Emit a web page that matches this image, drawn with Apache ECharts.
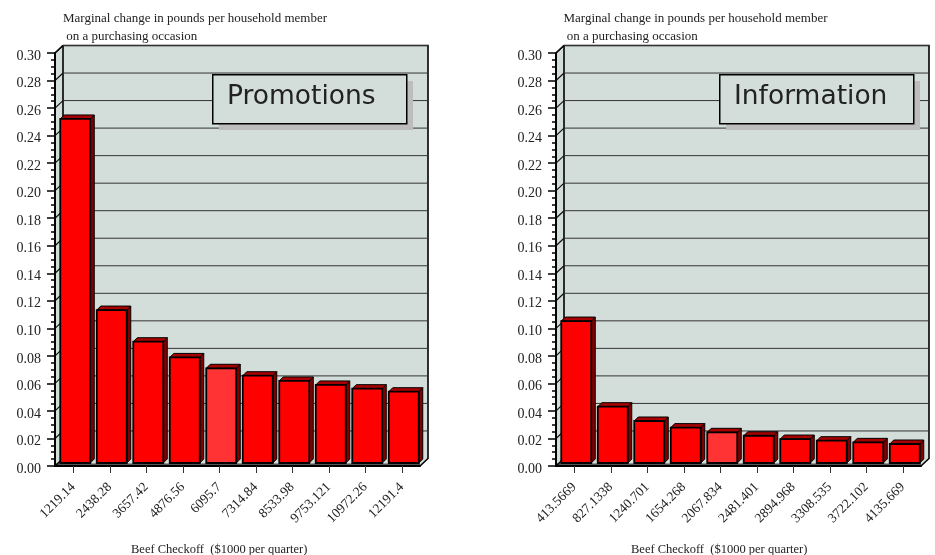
<!DOCTYPE html>
<html><head><meta charset="utf-8">
<style>html,body{margin:0;padding:0;background:#fff}#c{width:935px;height:555px}</style>
<script src="https://cdn.jsdelivr.net/npm/echarts@6/dist/echarts.min.js"></script>
</head><body><div id="c"></div>
<script>
const promoCategories = ['1219.14','2438.28','3657.42','4876.56','6095.7','7314.84','8533.98','9753.121','10972.26','12191.4'];
const promoValues = [0.2499,0.1111,0.0881,0.0767,0.0688,0.0634,0.0596,0.0567,0.0540,0.0518];
const infoCategories = ['413.5669','827.1338','1240.701','1654.268','2067.834','2481.401','2894.968','3308.535','3722.102','4135.669'];
const infoValues = [0.1031,0.0409,0.0305,0.0257,0.0223,0.0198,0.0174,0.0162,0.0150,0.0138];
const yTicks = [0.02,0.04,0.06,0.08,0.10,0.12,0.14,0.16,0.18,0.20,0.22,0.24,0.26,0.28,0.30];
const highlightIndex = 4;
const yTitle = 'Marginal change in pounds per household member\n on a purchasing occasion';
const xTitle = 'Beef Checkoff  ($1000 per quarter)';
const panelTitles = ['Promotions','Information'];

const serif = '"Liberation Serif","Times New Roman",serif';
const ink = '#222';
const DX = 8, DY = -7.5;          // depth of the chart box
const WALL = '#d3dedb';

function edges(api){
  const band = api.size([1,0])[0];
  return {l: api.coord([0,0])[0]-band/2, r: api.coord([9,0])[0]+band/2, band};
}
function renderWall(params, api){
  const e = edges(api);
  const y0 = api.coord([0,0])[1], y1 = api.coord([0,0.3])[1];
  const poly = (points, fill) => ({type:'polygon',shape:{points},style:{fill,stroke:'none'}});
  return {type:'group',children:[
    poly([[e.l,y1],[e.l+DX,y1+DY],[e.r+DX,y1+DY],[e.r+DX,y0+DY],[e.r,y0],[e.l,y0]],WALL),
    poly([[e.l,y0-2.5],[e.r,y0-2.5],[e.r,y0],[e.l,y0]],'#555'),
    {type:'polyline',shape:{points:[[e.l,y1],[e.l+DX,y1+DY],[e.r+DX,y1+DY],[e.r+DX,y0+DY],[e.r,y0]]},style:{fill:'none',stroke:'#000',lineWidth:1.6}},
    {type:'line',shape:{x1:e.l+DX,y1:y1+DY,x2:e.l+DX,y2:y0+DY},style:{stroke:'#000',lineWidth:1.6}},
    {type:'line',shape:{x1:e.l,y1:y0,x2:e.l+DX,y2:y0+DY},style:{stroke:'#000',lineWidth:1.6}}
  ]};
}
function renderGridline(params, api){
  const e = edges(api);
  const y = api.coord([0,api.value(1)])[1];
  return {type:'group',children:[
    {type:'line',shape:{x1:e.l,y1:y,x2:e.l+DX,y2:y+DY},style:{stroke:'#111',lineWidth:1.2}},
    {type:'line',shape:{x1:e.l+DX,y1:y+DY,x2:e.r+DX,y2:y+DY},style:{stroke:'#333',lineWidth:1}}
  ]};
}
function renderBar(params, api){
  const i = api.value(0), v = api.value(1);
  const c = api.coord([i,v]), b = api.coord([i,0]);
  const x0 = c[0]+2-15, x1 = c[0]+2+15, top = c[1]-3, bot = b[1]-3, d = 4;
  const thin = {stroke:'#000',lineWidth:1,lineJoin:'miter'};
  const edge = {stroke:'#000',lineWidth:1.8,lineJoin:'miter'};
  return {type:'group',children:[
    {type:'polygon',shape:{points:[[x1,top],[x1+d,top-d],[x1+d,bot-d],[x1,bot]]},style:Object.assign({fill:'#800000'},thin)},
    {type:'polygon',shape:{points:[[x0,top],[x0+d,top-d],[x1+d,top-d],[x1,top]]},style:Object.assign({fill:'#a80000'},thin)},
    {type:'rect',shape:{x:x0,y:top,width:x1-x0,height:bot-top},style:Object.assign({fill:i===highlightIndex?'#ff3333':'#ff0000'},edge)}
  ]};
}
function xAxis(gridIndex,data){
  return {type:'category',gridIndex,data,boundaryGap:true,
    axisLine:{show:true,onZero:false,lineStyle:{color:'#000',width:2}},
    axisTick:{show:true,alignWithLabel:true,length:7,lineStyle:{color:'#333',width:1}},
    axisLabel:{interval:0,rotate:45,margin:19,color:ink,fontFamily:serif,fontSize:13.5},
    splitLine:{show:false},z:6};
}
function yAxis(gridIndex){
  return {type:'value',gridIndex,min:0,max:0.3,interval:0.02,
    axisLine:{show:true,lineStyle:{color:'#000',width:2}},
    axisTick:{show:true,length:8,lineStyle:{color:'#000',width:1.5}},
    minorTick:{show:true,splitNumber:4,length:4,lineStyle:{color:'#000',width:1.5}},
    axisLabel:{margin:14,verticalAlign:'top',lineHeight:6,color:ink,fontFamily:serif,fontSize:14,formatter:v=>v.toFixed(2)},
    splitLine:{show:false},z:6};
}
function panelSeries(idx,values){
  const common = {type:'custom',coordinateSystem:'cartesian2d',xAxisIndex:idx,yAxisIndex:idx,silent:true,clip:false,animation:false};
  return [
    Object.assign({},common,{renderItem:renderWall,data:[[0,0]],z:1}),
    Object.assign({},common,{renderItem:renderGridline,data:yTicks.map(t=>[0,t]),z:2}),
    Object.assign({},common,{renderItem:renderBar,data:values.map((v,i)=>[i,v]),z:4})
  ];
}
function legendBox(x,y,w,h,text,tx){
  return [
    {type:'rect',left:x+7,top:y+7,shape:{width:w,height:h},style:{fill:'#bdbdbd'},z:20},
    {type:'rect',left:x,top:y,shape:{width:w,height:h},style:{fill:WALL,stroke:'#000',lineWidth:1.5},z:21},
    {type:'text',left:tx,top:y+10,style:{text,fill:'#222',font:'26.5px "DejaVu Sans"'},z:22}
  ];
}
function textTitle(text,left,top,size,lh){
  return {text,left,top,textStyle:{color:ink,fontFamily:serif,fontSize:size,fontWeight:'normal',lineHeight:lh||17},padding:0};
}
const chart = echarts.init(document.getElementById('c'),null,{renderer:'canvas'});
chart.setOption({
  animation:false,backgroundColor:'#fff',
  title:[textTitle(yTitle,63,10,13,18),textTitle(yTitle,563.5,10,13,18),textTitle(xTitle,131,541,12.5),textTitle(xTitle,631,541,12.5)],
  grid:[{left:55,top:53,width:365,height:413},{left:556,top:53,width:365,height:413}],
  xAxis:[xAxis(0,promoCategories),xAxis(1,infoCategories)],
  yAxis:[yAxis(0),yAxis(1)],
  series:[...panelSeries(0,promoValues),...panelSeries(1,infoValues)],
  graphic:[...legendBox(212,74,194,49,panelTitles[0],227),...legendBox(719,74,194,49,panelTitles[1],734)]
});
</script></body></html>
